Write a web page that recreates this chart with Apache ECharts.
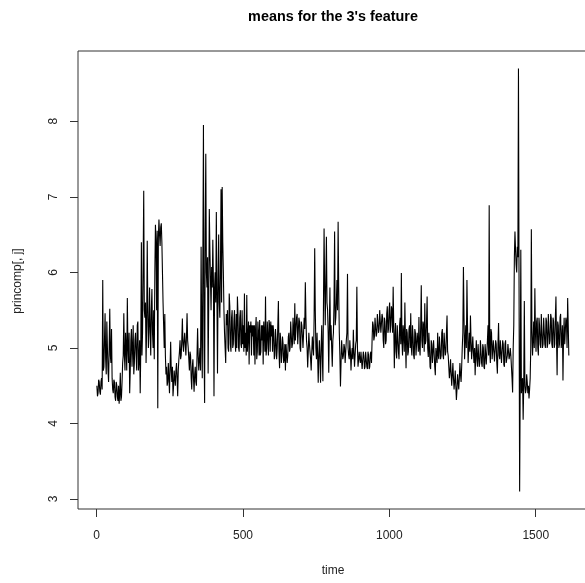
<!DOCTYPE html>
<html>
<head>
<meta charset="utf-8">
<script src="https://cdn.jsdelivr.net/npm/echarts@6/dist/echarts.min.js"></script>
<style>
html,body{margin:0;padding:0;background:#fff;}
#chart{width:585px;height:583px;}
</style>
</head>
<body>
<div id="chart"></div>
<script>
var titleText = "means for the 3's feature";
var xName = "time";
var yName = "princomp[, j]";
var xTicks = [0, 500, 1000, 1500];
var yTicks = [3, 4, 5, 6, 7, 8];
var timeStart = 1;
var timeStep = 4;
// values at time 1, 5, 9, ...
var values = [
 4.5,4.4,4.55,4.38,4.6,5.9,4.75,5.46,4.65,5.0,4.55,5.52,4.8,4.6,4.4,4.55,4.3,4.5,4.3,4.26,4.67,4.35,4.8,5.46,4.7,
 5.0,5.66,4.8,4.4,5.1,4.75,5.3,4.8,5.2,4.7,5.35,4.85,4.4,6.4,5.2,7.08,5.4,4.8,6.42,5.0,5.8,4.9,5.78,5.0,4.85,
 6.63,5.5,4.2,6.7,6.35,6.65,6.0,5.3,5.45,4.65,4.5,4.8,4.4,5.08,4.55,4.36,4.7,4.5,4.8,4.36,4.85,5.1,4.9,5.39,4.95,
 5.2,4.9,5.46,5.0,4.7,4.9,4.45,4.85,4.42,4.75,4.5,5.26,4.7,5.0,6.34,4.6,7.95,4.27,7.57,5.8,4.66,6.84,5.9,6.07,6.43,
 4.36,6.0,6.8,4.66,6.5,5.4,7.1,7.13,6.0,5.2,4.8,5.3,5.0,5.72,5.05,5.4,5.0,5.35,5.1,5.45,5.68,5.0,5.4,5.05,5.5,
 5.3,5.72,5.2,5.7,5.15,4.78,5.2,4.9,5.15,4.9,4.78,5.41,4.95,5.2,5.37,4.95,5.1,4.78,5.2,5.68,5.0,5.15,5.37,4.95,5.15,
 4.95,5.2,4.9,5.1,5.0,5.62,4.73,5.1,4.9,5.05,4.85,4.7,5.05,4.9,5.2,5.0,5.35,5.05,5.4,5.59,5.1,5.45,5.05,5.35,4.95,
 5.3,5.0,5.4,5.87,5.1,4.74,5.2,4.95,4.7,5.15,4.9,6.32,5.0,5.2,4.54,5.1,4.54,5.3,4.56,6.58,5.3,6.47,5.5,4.67,5.8,
 5.3,4.75,5.2,6.54,5.4,5.9,6.67,5.2,4.49,5.1,4.85,5.05,4.8,5.1,5.98,4.9,5.1,4.7,5.0,5.24,4.75,5.05,5.81,4.75,4.95,
 4.8,4.96,4.72,4.9,4.75,4.95,4.72,4.9,4.75,4.95,5.1,5.3,5.15,5.42,5.2,5.45,5.25,5.5,5.2,5.4,5.0,5.35,5.1,5.55,5.25,
 5.6,5.3,5.5,5.81,4.73,5.33,4.86,5.3,4.85,5.4,5.99,4.9,5.2,5.6,4.73,5.2,4.95,5.3,5.46,4.9,5.15,4.85,5.2,4.9,5.1,
 5.41,4.9,5.83,5.0,5.3,5.59,5.1,5.68,4.88,5.0,4.72,5.05,4.8,5.1,4.64,5.0,5.2,4.85,5.15,4.9,5.25,4.85,5.2,4.95,5.43,
 4.9,4.6,4.85,4.5,4.8,4.45,4.7,4.31,4.65,4.45,4.8,4.55,5.0,6.07,4.85,5.3,5.9,4.8,5.2,5.43,4.85,5.15,4.8,4.64,5.1,
 4.75,5.05,4.8,5.1,4.75,5.0,4.72,5.05,4.8,5.3,6.89,4.8,5.2,4.85,5.1,4.8,5.05,4.66,5.33,4.85,5.1,4.8,5.05,4.75,5.1,
 4.8,5.05,4.85,5.0,4.75,4.41,5.3,6.54,6.1,6.34,8.7,3.1,6.3,4.5,4.05,5.62,4.4,4.65,4.4,4.33,4.6,6.57,4.9,5.35,5.79,
 4.95,5.4,4.9,5.3,5.0,5.45,5.05,5.4,5.0,5.35,5.05,5.45,5.1,5.4,5.0,5.35,5.05,5.68,4.64,5.3,5.05,5.45,5.1,4.57,5.4,5.05,5.35,5.66,4.9
];
// values at time 3, 7, 11, ...
var valuesMid = [
 4.36,4.58,4.42,4.55,4.45,4.7,5.1,4.85,5.35,4.7,5.0,4.9,5.25,4.45,4.58,4.35,4.55,4.35,4.5,4.4,4.3,4.55,4.9,4.9,5.2,
 4.7,5.0,5.2,4.7,5.25,5.0,4.65,5.1,4.9,5.3,4.7,5.1,5.0,4.9,6.1,5.5,5.6,5.3,5.5,5.3,5.2,5.5,5.2,5.5,6.0,
 6.4,6.55,6.45,6.5,6.6,6.4,5.6,5.0,4.9,4.75,4.55,4.6,4.75,4.7,4.75,4.5,4.6,4.7,4.6,4.7,4.95,4.85,5.1,5.05,5.1,
 5.05,5.15,5.1,4.85,4.95,4.6,4.75,4.6,4.65,4.55,4.9,4.9,4.85,4.7,5.2,6.2,5.0,6.5,6.0,6.2,5.6,6.3,5.5,5.8,5.9,
 5.8,5.6,5.7,5.9,5.6,6.0,5.6,6.4,5.5,5.0,5.45,5.5,4.95,5.55,4.95,5.5,5.05,5.5,4.95,5.0,5.45,4.95,5.5,5.0,5.05,
 4.95,5.0,4.9,4.95,5.35,5.3,5.35,5.3,5.3,5.3,5.25,4.85,5.35,4.9,4.9,5.3,5.3,5.35,4.95,4.9,5.35,4.9,5.3,5.35,5.3,
 5.3,4.85,5.25,4.85,5.3,4.95,5.2,4.8,5.15,4.8,5.05,5.05,4.8,5.15,4.95,5.35,5.0,5.4,5.05,5.1,5.4,5.05,5.4,5.0,5.35,
 5.15,5.2,5.25,5.4,5.0,4.95,5.05,4.85,4.95,5.0,5.4,5.5,4.85,4.9,4.9,4.85,5.0,4.9,5.6,5.8,5.9,5.6,5.2,5.3,5.1,
 5.0,5.1,5.6,5.3,5.6,5.5,5.8,4.9,4.8,4.95,4.9,5.0,4.95,5.2,5.0,4.85,4.95,4.9,4.85,4.95,4.9,5.1,5.0,4.85,4.85,
 4.95,4.72,4.95,4.72,4.95,4.75,4.95,4.72,4.92,4.8,5.35,5.1,5.4,5.15,5.45,5.2,5.5,5.2,5.45,5.1,5.4,5.05,5.45,5.2,5.5,
 5.2,5.55,5.2,5.3,5.15,4.95,5.3,4.95,5.3,5.05,5.1,5.3,4.95,5.1,5.25,4.9,5.25,5.0,5.0,5.3,4.9,5.25,4.9,5.2,4.95,
 5.0,5.3,5.1,5.35,4.95,5.05,5.35,5.0,5.2,4.75,5.1,4.8,5.1,4.75,5.0,4.8,4.9,5.15,4.85,5.2,4.9,5.2,4.9,5.2,4.95,
 4.75,4.7,4.65,4.65,4.6,4.55,4.5,4.45,4.55,4.6,4.65,4.75,5.2,5.4,5.1,5.0,5.3,5.0,4.95,5.1,5.0,4.95,5.0,4.9,4.85,
 5.05,4.75,5.1,4.8,5.05,4.75,5.05,4.78,5.1,4.9,4.95,5.25,4.85,5.1,4.82,5.1,4.8,5.05,4.9,5.1,4.8,5.1,4.78,5.05,4.8,
 4.9,4.95,4.9,4.9,4.6,5.0,6.2,6.3,6.0,6.2,5.8,4.6,4.4,4.6,4.5,4.5,4.45,4.55,4.5,4.45,5.0,5.2,5.1,5.0,5.2,
 5.35,5.0,5.4,5.05,5.45,5.0,5.4,5.05,5.4,5.0,5.45,5.05,5.45,5.05,5.4,5.0,5.4,5.1,5.35,5.0,5.4,5.0,5.3,5.15,5.05,5.4,5.0,5.3
];

var seriesData = [];
values.forEach(function (v, i) {
  var t = timeStart + timeStep * i;
  seriesData.push([t, v]);
  if (i < valuesMid.length) seriesData.push([t + timeStep / 2, valuesMid[i]]);
});

var chart = echarts.init(document.getElementById('chart'), null, {renderer: 'canvas'});
var axisColor = '#333';
var fontFam = '"Liberation Sans", Arial, Helvetica, sans-serif';
function plain(v) { return String(v); }
chart.setOption({
  animation: false,
  backgroundColor: '#fff',
  grid: {
    left: 78, top: 51, width: 510, height: 458,
    containLabel: false,
    outerBoundsMode: 'none',
    show: true,
    borderColor: axisColor,
    borderWidth: 1,
    backgroundColor: 'transparent'
  },
  xAxis: {
    type: 'value',
    min: -63.5, max: 1678.5,
    axisLine: {show: false, onZero: false},
    splitLine: {show: false},
    axisTick: {show: true, length: 8, customValues: xTicks, lineStyle: {color: axisColor, width: 1}},
    axisLabel: {show: true, customValues: xTicks, formatter: plain, margin: 21, color: '#222', fontSize: 12, fontFamily: fontFam}
  },
  yAxis: {
    type: 'value',
    min: 2.868, max: 8.93,
    axisLine: {show: false, onZero: false},
    splitLine: {show: false},
    axisTick: {show: true, length: 8, customValues: yTicks, lineStyle: {color: axisColor, width: 1}},
    axisLabel: {show: true, customValues: yTicks, formatter: plain, rotate: 90, margin: 18, color: '#222', fontSize: 12, fontFamily: fontFam}
  },
  graphic: [
    {type: 'text', x: 333, y: 17, style: {text: titleText, fill: '#000', font: 'bold 14.4px ' + fontFam, textAlign: 'center', textVerticalAlign: 'middle'}},
    {type: 'text', x: 333, y: 571, style: {text: xName, fill: '#222', font: '12px ' + fontFam, textAlign: 'center', textVerticalAlign: 'middle'}},
    {type: 'text', x: 18, y: 281, rotation: Math.PI / 2, style: {text: yName, fill: '#222', font: '12px ' + fontFam, textAlign: 'center', textVerticalAlign: 'middle'}}
  ],
  series: [{
    type: 'line',
    data: seriesData,
    showSymbol: false,
    symbol: 'none',
    sampling: null,
    lineStyle: {color: '#000', width: 1.1},
    silent: true
  }]
});
</script>
</body>
</html>
